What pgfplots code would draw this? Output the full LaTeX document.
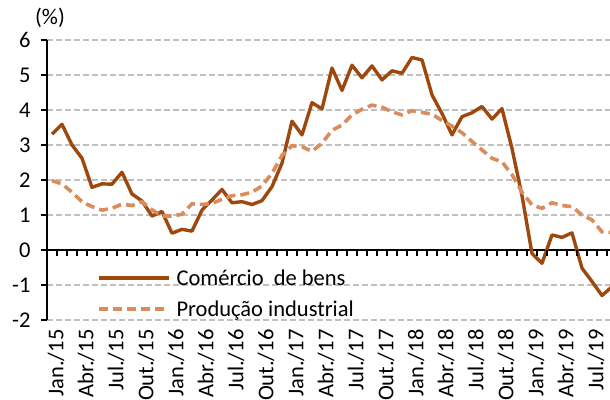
\documentclass[border=0pt]{standalone}
\usepackage{fontspec}
\setmainfont{Carlito}
\usepackage{pgfplots}
\usepackage{pgfplotstable}
\pgfplotsset{compat=1.18}
\definecolor{com}{RGB}{158,72,14}
\definecolor{prod}{RGB}{217,140,92}
\definecolor{gridc}{RGB}{192,192,192}
\newcommand{\fs}{\fontsize{22.5}{27}\selectfont}

\pgfplotstableread{
idx com prod
0 3.31 1.98
1 3.59 1.89
2 3.00 1.65
3 2.62 1.38
4 1.79 1.24
5 1.89 1.14
6 1.88 1.19
7 2.22 1.31
8 1.60 1.27
9 1.40 1.38
10 0.97 1.15
11 1.10 0.97
12 0.48 0.97
13 0.59 1.02
14 0.54 1.32
15 1.14 1.30
16 1.43 1.33
17 1.73 1.45
18 1.35 1.55
19 1.38 1.58
20 1.30 1.65
21 1.41 1.83
22 1.81 2.19
23 2.48 2.70
24 3.68 2.98
25 3.29 2.95
26 4.21 2.82
27 4.03 3.05
28 5.20 3.42
29 4.56 3.57
30 5.28 3.86
31 4.92 4.02
32 5.26 4.14
33 4.86 4.08
34 5.12 3.95
35 5.05 3.86
36 5.50 3.98
37 5.43 3.93
38 4.43 3.88
39 3.90 3.70
40 3.29 3.54
41 3.81 3.35
42 3.92 3.10
43 4.10 2.86
44 3.74 2.62
45 4.04 2.52
46 2.90 2.15
47 1.55 1.65
48 -0.10 1.29
49 -0.38 1.19
50 0.43 1.35
51 0.36 1.27
52 0.49 1.24
53 -0.52 1.00
54 -0.90 0.86
55 -1.30 0.52
56 -1.05 0.50
}\data

\begin{document}
\begin{tikzpicture}
\begin{axis}[name=ax, scale only axis, width=563pt, height=280pt,
  xmin=-0.5, xmax=55.8, ymin=-2, ymax=6,
  axis x line=bottom, axis y line=left,
  x axis line style={draw=none},
  y axis line style={-, black, line width=2.4pt},
  xtick={0,3,...,54},
  xticklabels={Jan./15,Abr./15,Jul./15,Out./15,Jan./16,Abr./16,Jul./16,Out./16,Jan./17,Abr./17,Jul./17,Out./17,Jan./18,Abr./18,Jul./18,Out./18,Jan./19,Abr./19,Jul./19},
  x tick style={draw=none},
  xticklabel style={rotate=90, anchor=east, font=\fs, yshift=-4pt},
  ytick={-2,-1,...,6},
  y tick style={black, line width=1.6pt},
  major tick length=6pt,
  tick align=outside,
  yticklabel style={font=\fs, xshift=-7pt},
  /pgf/number format/assume math mode=true,
  ymajorgrids,
  major grid style={gridc, line width=1.6pt, dash pattern=on 6pt off 3pt},
  extra y ticks={0}, extra y tick labels={},
  extra y tick style={major grid style={solid, black, line width=2.6pt}},
  legend style={draw=none, fill=none, font=\fs, at={(0.083,0.195)}, anchor=north west, row sep=10pt},
  legend cell align=left,
  legend image code/.code={\draw[#1] (0pt,0pt) -- (70pt,0pt);},
]
\addplot[com, line width=3.4pt, line join=round] table[x=idx, y=com] {\data};
\addlegendentry{\hspace{4pt}Comércio\ \ de bens}
\addplot[prod, line width=3.6pt, dash pattern=on 9pt off 5pt] table[x=idx, y=prod] {\data};
\addlegendentry{\hspace{4pt}Produção industrial}
\pgfplotsinvokeforeach{0,...,55}{\draw[black, line width=1.6pt] (axis cs:#1.5,0) -- ([yshift=-6pt]axis cs:#1.5,0);}
\end{axis}
\node[font=\fs] at ([xshift=3pt,yshift=22pt]ax.north west) {(\%)};
\pgfresetboundingbox
\useasboundingbox ([shift={(-47pt,-80pt)}]ax.south west) rectangle ([shift={(0pt,40pt)}]ax.north east);
\end{tikzpicture}
\end{document}
